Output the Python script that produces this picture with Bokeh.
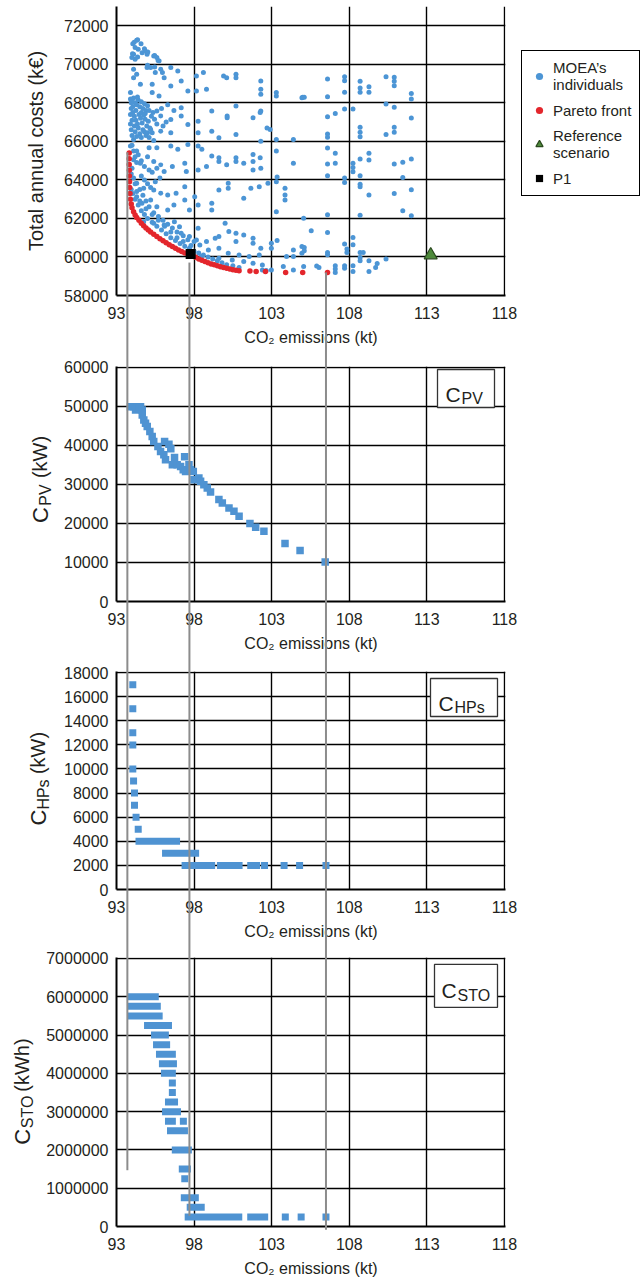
import math
from bokeh.plotting import figure
from bokeh.layouts import column, row
from bokeh.models import (Range1d, FixedTicker, PrintfTickFormatter, Legend, LegendItem,
                          Label, BoxAnnotation)
from bokeh.embed import file_html
from bokeh.resources import INLINE

# ---------------- data ----------------
x_ticks = [93, 98, 103, 108, 113, 118]
cost_ticks = [58000, 60000, 62000, 64000, 66000, 68000, 70000, 72000]
cpv_ticks = [0, 10000, 20000, 30000, 40000, 50000, 60000]
chp_ticks = [0, 2000, 4000, 6000, 8000, 10000, 12000, 14000, 16000, 18000]
sto_ticks = [0, 1000000, 2000000, 3000000, 4000000, 5000000, 6000000, 7000000]

# MOEA individuals (CO2 kt, cost k€), grouped by region
moea_top = [(94.3, 71250), (94.05, 71070), (94.2, 70870), (94.4, 70780), (94.1, 70520), (94.65, 70600),
            (94.85, 70690), (94.97, 70520), (95.4, 70430), (95.6, 70350), (95.75, 70170), (93.99, 70350),
            (94.2, 70260), (94.36, 71268), (94.14, 71150), (94.58, 71070), (94.8, 70810), (95.02, 70640),
            (95.46, 70460), (95.68, 70200), (94.03, 70550), (94.36, 70380), (95.0, 69950), (95.46, 69860)]
moea_68_70 = [(94.1, 69740), (94.3, 69480), (94.97, 69830), (95.2, 69830), (95.5, 69570), (95.96, 69570),
              (96.5, 69830), (96.95, 69650), (97.17, 69130), (96.07, 69300), (94.54, 68960), (95.3, 68960),
              (95.74, 68350), (95.3, 68530), (97.6, 68610), (98.15, 69390), (98.6, 69570), (98.8, 68700),
              (98.15, 68610), (99.9, 69390), (100.1, 69300), (100.7, 69480), (100.7, 69300), (102.3, 69130),
              (102.3, 68700), (102.3, 68440), (103.3, 68530), (103.3, 68350), (104.95, 68270), (93.9, 68530),
              (94.1, 69300), (96.5, 68870), (95.85, 69740), (105.0, 68290)]
moea_66_68 = [(95.6, 67570), (95.85, 67320), (96.5, 67140), (97.17, 67750), (97.17, 67320), (97.6, 66880),
              (98.26, 67050), (99.14, 67570), (100.13, 67320), (100.13, 67230), (100.7, 67830), (101.8, 67230),
              (102.3, 67570), (100.7, 66360), (102.9, 66620), (96.5, 66450), (95.85, 66530), (95.2, 66620),
              (98.26, 66450), (99.14, 66530), (99.6, 66190), (102.26, 67500), (102.7, 66700),
              (93.9, 68200), (94.0, 68100), (94.1, 68250), (94.2, 68000), (94.3, 67900), (94.4, 68150),
              (94.5, 67800), (94.6, 68050), (94.7, 67700), (94.8, 67950), (94.9, 67600), (95.0, 67850),
              (93.95, 67700), (94.05, 67500), (94.15, 67300), (94.25, 67100), (94.35, 66900), (94.45, 67400),
              (94.55, 67200), (94.65, 66950), (94.75, 67350), (94.85, 67150), (94.95, 66800), (95.05, 67050),
              (95.15, 66700), (95.25, 67300), (95.35, 67500), (93.9, 66900), (93.95, 66600), (94.0, 66300),
              (94.1, 66100), (94.2, 66500), (94.3, 66250), (94.5, 66400), (94.7, 66600), (94.9, 66300),
              (95.1, 66200), (95.3, 66450), (93.95, 68000), (94.05, 67800), (94.25, 67600), (94.35, 68300),
              (94.6, 67500), (94.85, 67450), (95.1, 67600), (95.45, 67150), (95.6, 66900), (94.0, 67100),
              (94.4, 66700), (94.8, 66500), (95.0, 66450), (93.9, 67400), (94.15, 66800), (94.6, 66200),
              (95.4, 66050), (96.0, 66800), (96.2, 67000), (95.9, 67700), (96.3, 67900), (96.7, 67600)]
moea_64_66 = [(93.9, 65760), (94.3, 65500), (95.1, 65670), (95.6, 65670), (96.5, 65760), (96.95, 65590),
              (97.6, 65840), (98.26, 65760), (98.5, 65590), (99.14, 65240), (99.6, 65150), (100.7, 65150),
              (101.8, 65320), (102.3, 66000), (103.3, 66100), (103.3, 65500), (104.4, 66100), (102.26, 65150),
              (94.1, 65040), (94.54, 64870), (95.4, 64950), (95.85, 64780), (96.6, 64690), (97.4, 64870),
              (97.5, 64430), (98.8, 64690), (99.6, 64950), (100.1, 64780), (100.7, 64950), (101.2, 64870),
              (101.8, 64950), (101.8, 64520), (102.3, 64610), (104.4, 64870), (95.1, 64520), (96.07, 64430),
              (98.26, 64520), (103.35, 64150), (94.0, 65800), (94.1, 65500), (94.2, 65200), (94.3, 64900),
              (94.0, 64600), (93.95, 64300), (94.1, 64100), (94.4, 65300), (94.6, 65000), (94.8, 64700),
              (95.0, 65200), (95.3, 64400), (95.6, 64600), (94.6, 64200), (94.8, 64000)]
moea_62_64 = [(94.3, 63830), (94.75, 63570), (95.4, 63480), (95.85, 63310), (96.3, 63220), (96.84, 63310),
              (97.4, 63650), (97.4, 62960), (98.04, 63130), (98.26, 62700), (99.14, 62790), (99.14, 62440),
              (99.6, 63480), (100.2, 63830), (100.2, 63570), (101.2, 63050), (101.66, 63570), (102.2, 63650),
              (102.76, 63830), (103.3, 63910), (103.86, 63570), (103.86, 63220), (103.86, 62960), (103.3, 62350),
              (105.06, 62010), (95.2, 62960), (95.6, 62610), (96.3, 62440), (96.7, 62700), (94.3, 63130),
              (94.64, 62790), (97.7, 62440), (94.2, 63800), (93.95, 63500), (94.05, 63300), (94.2, 63000),
              (94.4, 62700), (94.6, 62400), (94.8, 62200), (95.0, 63800), (95.2, 63600), (95.5, 63900),
              (95.8, 64100), (94.5, 63500), (94.7, 63200), (94.9, 62900), (95.1, 62600), (95.4, 62300),
              (95.7, 62100), (94.3, 63400), (94.5, 62900), (94.9, 62500), (95.3, 62200)]
moea_60_62 = [(94.75, 61830), (95.4, 61750), (96.07, 61660), (96.73, 61830), (97.06, 61570), (97.17, 61230),
              (97.7, 61060), (98.26, 61490), (98.15, 60880), (98.8, 60800), (99.36, 60970), (99.6, 61060),
              (100.0, 61750), (100.24, 61320), (100.7, 61230), (100.7, 60800), (101.2, 61140), (101.8, 60970),
              (101.8, 60710), (102.3, 60450), (102.98, 60710), (102.98, 60450), (103.96, 60020), (104.4, 60360),
              (104.4, 60020), (104.95, 60540), (104.95, 60190), (98.37, 60620), (98.92, 60360), (99.6, 60450),
              (100.2, 60190), (100.9, 60100), (101.55, 60020), (102.2, 60100), (103.35, 60850), (105.55, 61360),
              (95.0, 62000), (95.3, 61800), (95.6, 61600), (95.9, 61400), (96.2, 61200), (96.5, 61000),
              (96.8, 60850), (97.1, 60700), (97.4, 60550), (97.7, 60450), (98.0, 60300), (98.3, 60200),
              (98.6, 60100), (98.9, 60000), (96.0, 61900), (96.3, 61700), (96.6, 61500), (96.9, 61300),
              (97.3, 61100), (97.6, 60900), (98.0, 60800), (95.7, 61900), (96.1, 61600), (96.5, 61300),
              (96.9, 61000), (97.3, 60800), (97.8, 60600)]
moea_below_60 = [(98.48, 60020), (99.6, 59930), (100.46, 59840), (101.2, 59760), (101.8, 59670),
                 (102.4, 59580), (102.4, 59320), (102.98, 59320), (103.75, 59500), (104.4, 59320),
                 (105.06, 59500), (99.2, 59900), (99.5, 59800), (99.8, 59700), (100.1, 59600),
                 (100.5, 59550), (100.9, 59450), (105.9, 59530), (102.65, 59300)]
moea_right = [(106.6, 69240), (107.7, 69360), (107.7, 69150), (106.6, 68320), (107.7, 68550), (108.7, 69120),
              (108.7, 68770), (108.7, 68550), (109.27, 68840), (109.27, 68550), (110.37, 69360), (110.9, 69330),
              (110.9, 69120), (110.9, 68890), (112.0, 68490), (112.0, 68200), (105.1, 68290),
              (106.6, 67280), (107.1, 67450), (107.7, 67680), (108.24, 67680), (110.37, 67940), (110.9, 67770),
              (112.0, 67210), (106.6, 66380), (106.6, 66210), (108.7, 66730), (108.7, 66470), (108.7, 66240),
              (110.37, 66350), (110.9, 66730), (110.9, 66470),
              (106.6, 65650), (107.1, 65380), (107.1, 64870), (106.6, 64820), (106.6, 64220), (108.24, 64870),
              (108.24, 64650), (108.24, 64420), (108.7, 65080), (109.27, 65380), (109.27, 65030), (110.9, 64820),
              (111.45, 64910), (112.0, 65080), (111.45, 64130), (108.7, 64220), (107.7, 64100), (107.7, 63870),
              (108.7, 63780), (108.7, 63640), (109.27, 63210), (110.9, 63300), (112.0, 63490), (111.45, 62400),
              (112.0, 62140), (108.7, 62170), (106.6, 62190),
              (106.6, 61270), (108.24, 61010), (108.24, 60630), (107.7, 60670), (107.85, 60410),
              (107.85, 60230), (106.6, 60230), (106.6, 60110), (108.7, 60230), (108.9, 60230), (108.7, 59970),
              (108.7, 59800), (109.27, 59800), (110.37, 59890), (109.8, 59660), (109.7, 59450), (109.27, 59250),
              (108.24, 59540), (108.24, 59250), (107.7, 59540), (107.7, 59420), (107.1, 59540), (107.1, 59370),
              (107.1, 59190), (106.05, 59450), (105.1, 60490), (105.1, 60320)]

# Pareto front (CO2 kt, cost k€)
pareto_x = [93.82, 93.82, 93.82, 93.83, 93.83, 93.84, 93.85, 93.87, 93.9, 93.95, 94.0, 94.1, 94.2, 94.3,
            94.45, 94.6, 94.75, 94.9, 95.05, 95.2, 95.4, 95.6, 95.8, 96.0, 96.2, 96.4, 96.6, 96.8, 97.0,
            97.2, 97.4, 97.6, 97.9, 98.1, 98.3, 98.5, 98.7, 98.9, 99.1, 99.3, 99.5, 99.7, 99.9, 100.1,
            100.3, 100.5, 100.7, 100.9, 101.6, 102.0, 102.6, 103.9, 105.0, 106.6]
pareto_y = [65400, 65100, 64800, 64500, 64200, 63900, 63600, 63300, 63000, 62750, 62550, 62350, 62180, 62050,
            61900, 61750, 61620, 61500, 61400, 61300, 61180, 61060, 60950, 60840, 60740, 60640, 60540, 60450,
            60360, 60280, 60210, 60150, 60060, 59980, 59900, 59830, 59760, 59700, 59640, 59590, 59540, 59490,
            59450, 59410, 59370, 59340, 59310, 59290, 59270, 59250, 59240, 59200, 59200, 59190]
p1_x = [97.78]
p1_y = [60150]
ref_x = [113.25]
ref_y = [60100]

# C_PV (kW) of the Pareto solutions
cpv_x = [93.9, 94.1, 94.33, 94.55, 94.23, 94.45, 94.66, 94.66, 94.76, 94.87, 94.98, 95.15, 95.3, 95.4,
         95.67, 95.84, 96.05, 96.16, 96.1, 96.38, 96.5, 96.6, 96.74, 96.91, 97.13, 97.39, 97.3, 97.45,
         97.67, 97.77, 97.95, 97.99, 98.31, 98.42, 98.63, 98.85, 99.06, 99.6, 99.82, 100.25, 100.57,
         100.9, 101.6, 101.97, 102.5, 103.86, 104.83, 106.45]
cpv_y = [49950, 49950, 49950, 49950, 49100, 49500, 49100, 47830, 46550, 45700, 44850, 43570, 42290, 41020,
         39740, 38470, 37620, 36340, 41020, 40340, 39150, 35060, 36930, 35060, 34640, 37100, 33790, 33360,
         35060, 33790, 33360, 31230, 31650, 30810, 29960, 29110, 28080, 26130, 25280, 24000, 23150,
         21870, 20000, 19060, 18040, 14890, 13100, 10100]

# C_HPs (kW): single solutions and runs of solutions sharing one value
chp_x = [94.05, 94.05, 94.05, 94.05, 94.05, 94.1, 94.16, 94.16, 94.26, 94.4, 102.54, 103.8, 104.8, 106.5]
chp_y = [17000, 15000, 13000, 12000, 10000, 9000, 8000, 7000, 6000, 5000, 2000, 2000, 2000, 2000]
chp_run_start = [94.45, 96.16, 97.42, 99.7, 101.65]
chp_run_end = [96.87, 98.1, 99.13, 100.9, 102.03]
chp_run_y = [4000, 3000, 2000, 2000, 2000]

# C_STO (kWh)
sto_x = [96.6, 96.6, 97.31, 97.4, 103.88, 104.9, 106.5]
sto_y = [3750000, 3500000, 2750000, 1250000, 250000, 250000, 250000]
sto_run_start = [93.94, 93.94, 93.94, 95.0, 95.45, 95.58, 95.77, 95.96, 96.09, 96.35, 96.16, 96.35,
                 96.48, 96.79, 97.24, 97.37, 97.75, 97.62, 101.65]
sto_run_end = [95.5, 95.63, 95.75, 96.35, 96.15, 96.23, 96.6, 96.67, 96.6, 96.74, 96.93, 96.6,
               97.38, 97.63, 97.57, 98.08, 98.46, 100.88, 102.55]
sto_run_y = [6000000, 5750000, 5500000, 5250000, 5000000, 4750000, 4500000, 4250000, 4000000, 3250000,
             3000000, 2750000, 2500000, 2000000, 1500000, 750000, 500000, 250000, 250000]

# vertical guide lines linking the panels
link_x = [93.7, 97.7, 106.5]
link_top_cost = [65430, 59710, 59200]        # where each line starts (top panel, k€)
link_bottom_sto = [1470000, 280000, -85000]  # where each line ends (bottom panel, kWh)

# ---------------- styling ----------------
FONT = "Liberation Sans"
TXT = "#231f20"
BLUE = "#4c95d5"
SQ_BLUE = "#4f93d2"
RED = "#e3262c"
GREEN = "#4e8a3b"
GRAY = "#8c8c8c"
PAGE_W = 641
FL, FR = 116, 505          # page x of the plot frames
X0, X1 = 93, 118.07


def make_fig(page_left, page_right, page_top, page_bottom, ftop, fbot, y0, y1, yticks):
    p = figure(width=page_right - page_left, height=page_bottom - page_top, output_backend="svg",
               toolbar_location=None, x_range=Range1d(X0, X1), y_range=Range1d(y0, y1),
               min_border_left=FL - page_left, min_border_right=page_right - FR,
               min_border_top=ftop - page_top, min_border_bottom=page_bottom - fbot)
    p.outline_line_color = None
    p.background_fill_color = "white"
    p.border_fill_color = "white"
    p.xaxis.ticker = FixedTicker(ticks=x_ticks)
    p.yaxis.ticker = FixedTicker(ticks=yticks)
    p.yaxis.formatter = PrintfTickFormatter(format="%d")
    p.xgrid.ticker = FixedTicker(ticks=x_ticks)
    p.ygrid.ticker = FixedTicker(ticks=yticks)
    for g in (p.xgrid[0], p.ygrid[0]):
        g.grid_line_color = "black"
        g.grid_line_width = 1.4
        g.grid_line_alpha = 1.0
    for ax in (p.xaxis[0], p.yaxis[0]):
        ax.axis_line_color = "black"
        ax.axis_line_width = 2
        ax.major_tick_in = 0
        ax.major_tick_out = 0
        ax.minor_tick_in = 0
        ax.minor_tick_out = 0
        ax.major_label_text_font = FONT
        ax.major_label_text_font_size = "16px"
        ax.major_label_text_color = TXT
        ax.major_label_standoff = 8
    p.xaxis.major_label_standoff = 11
    p.xaxis.axis_label = "CO₂ emissions (kt)"
    p.xaxis.axis_label_text_font = FONT
    p.xaxis.axis_label_text_font_size = "16px"
    p.xaxis.axis_label_text_font_style = "normal"
    p.xaxis.axis_label_text_color = TXT
    p.xaxis.axis_label_standoff = 7
    geom = dict(ftop=ftop, fbot=fbot, y0=y0, y1=y1)
    return p, geom


def dx(px):
    return X0 + (px - FL) / (FR - FL) * (X1 - X0)


def dy(g, py):
    return g["y0"] + (g["fbot"] - py) / (g["fbot"] - g["ftop"]) * (g["y1"] - g["y0"])


def add_links(p, lows, highs):
    p.segment(x0=link_x, y0=lows, x1=link_x, y1=highs, line_color=GRAY, line_width=2, level="overlay")


def add_tag(p, g, box, main, sub):
    l, r, t, b = box
    p.add_layout(BoxAnnotation(left=dx(l), right=dx(r), top=dy(g, t), bottom=dy(g, b),
                               fill_color="white", fill_alpha=1.0, line_color="#333333",
                               line_width=1.3, line_alpha=1.0))
    for text, size, px, py in (main, sub):
        p.add_layout(Label(x=dx(px), y=dy(g, py), text=text, text_font=FONT, text_font_size=size,
                           text_color=TXT, text_align="left", text_baseline="alphabetic"))


def blank_fig(width, height, y_range):
    f = figure(width=width, height=height, output_backend="svg", toolbar_location=None,
               x_range=Range1d(0, width), y_range=y_range, x_axis_type=None, y_axis_type=None,
               min_border_left=0, min_border_right=0, min_border_top=0, min_border_bottom=0)
    f.outline_line_color = None
    f.grid.visible = False
    return f


def label_fig(width, page_top, page_bottom, g, parts):
    """Narrow figure (frame aligned with its panel) holding a rotated y title with a subscript.
    Its y range runs in page pixels, so the parts are given as page-pixel centres."""
    lf = blank_fig(width, page_bottom - page_top, Range1d(g["fbot"], g["ftop"]))
    for text, size, cx, cy in parts:
        lf.add_layout(Label(x=cx, y=cy, text=text, angle=math.pi / 2,
                            text_font=FONT, text_font_size=size, text_color=TXT,
                            text_align="center", text_baseline="middle"))
    return lf


# ---------------- panel 1: costs ----------------
P1_RIGHT = 520
p1, g1 = make_fig(0, P1_RIGHT, 0, 350, 6, 295, 58000, 73000, cost_ticks)
p1.yaxis.axis_label = "Total annual costs (k€)"
p1.yaxis.axis_label_text_font = FONT
p1.yaxis.axis_label_text_font_size = "20px"
p1.yaxis.axis_label_text_font_style = "normal"
p1.yaxis.axis_label_text_color = TXT
p1.yaxis.axis_label_standoff = 14

moea = moea_top + moea_68_70 + moea_66_68 + moea_64_66 + moea_62_64 + moea_60_62 + moea_below_60 + moea_right
moea_style = dict(marker="circle", size=5, fill_color=BLUE, line_color=None)
par_style = dict(marker="circle", size=5.5, fill_color=RED, line_color=None)
p1_style = dict(marker="square", size=10, fill_color="black", line_color=None)
ref_style = dict(marker="triangle", size=13, fill_color=GREEN, line_color="#2b4a1f", line_width=1.2)
p1.scatter([a for a, _ in moea], [b for _, b in moea], **moea_style)
p1.scatter(pareto_x, pareto_y, **par_style)
p1.scatter(p1_x, p1_y, **p1_style)
p1.scatter(ref_x, ref_y, **ref_style)
add_links(p1, [50000] * 3, link_top_cost)

# legend lives in its own narrow figure (frame aligned with the top panel's frame)
legfig = blank_fig(PAGE_W - P1_RIGHT, 350, Range1d(0, 1))
k_moea = legfig.scatter([-50], [-50], **moea_style)
k_par = legfig.scatter([-50], [-50], **par_style)
k_ref = legfig.scatter([-50], [-50], **ref_style)
k_p1 = legfig.scatter([-50], [-50], **p1_style)
legend = Legend(items=[LegendItem(label="MOEA’s\nindividuals", renderers=[k_moea]),
                       LegendItem(label="Pareto front", renderers=[k_par]),
                       LegendItem(label="Reference\nscenario", renderers=[k_ref]),
                       LegendItem(label="P1", renderers=[k_p1])],
                location=(1, 99), border_line_color="black", border_line_width=1,
                border_line_alpha=1.0, background_fill_color="white", background_fill_alpha=1.0,
                label_text_font=FONT, label_text_font_size="15px", label_text_color=TXT,
                glyph_width=18, glyph_height=18, label_standoff=5, label_width=78,
                spacing=8, padding=8, margin=0)
legfig.add_layout(legend)

# ---------------- panel 2: C_PV ----------------
p2, g2 = make_fig(58, PAGE_W, 350, 655, 366, 601, 0, 60250, cpv_ticks)
p2.scatter(cpv_x, cpv_y, marker="square", size=7.5, fill_color=SQ_BLUE, line_color=None)
add_links(p2, [-20000] * 3, [70000] * 3)
add_tag(p2, g2, (437, 494, 369, 407), ("C", "21px", 445, 393.5), ("PV", "16px", 461, 397.5))
lab2 = label_fig(58, 350, 655, g2, [("C", "22px", 39.5, 514.5), ("PV", "16px", 44.5, 494.5),
                                    ("(kW)", "20px", 39.5, 456.5)])

# ---------------- panel 3: C_HPs ----------------
p3, g3 = make_fig(58, PAGE_W, 655, 942, 671, 889, 0, 18090, chp_ticks)
p3.segment(x0=chp_run_start, y0=chp_run_y, x1=chp_run_end, y1=chp_run_y, line_width=7,
           line_color=SQ_BLUE, line_cap="square")
p3.scatter(chp_x, chp_y, marker="square", size=7, fill_color=SQ_BLUE, line_color=None)
add_links(p3, [-6000] * 3, [21000] * 3)
add_tag(p3, g3, (430, 497, 678, 716), ("C", "21px", 438, 703), ("HPs", "16px", 454, 707))
lab3 = label_fig(58, 655, 942, g3, [("C", "22px", 37.5, 817), ("HPs", "16px", 42.5, 794),
                                    ("(kW)", "20px", 37.5, 752.5)])

# ---------------- panel 4: C_STO ----------------
p4, g4 = make_fig(40, PAGE_W, 942, 1279, 957, 1227, 0, 7026000, sto_ticks)
p4.segment(x0=sto_run_start, y0=sto_run_y, x1=sto_run_end, y1=sto_run_y, line_width=7,
           line_color=SQ_BLUE, line_cap="square")
p4.scatter(sto_x, sto_y, marker="square", size=7, fill_color=SQ_BLUE, line_color=None)
add_links(p4, link_bottom_sto, [7600000] * 3)
add_tag(p4, g4, (434, 497, 964, 1007), ("C", "21px", 441, 990), ("STO", "16px", 457, 995))
lab4 = label_fig(40, 942, 1279, g4, [("C", "22px", 21.5, 1137), ("STO", "16px", 26.5, 1112),
                                     ("(kWh)", "20px", 21.5, 1065)])

layout = column(row(p1, legfig, spacing=0), row(lab2, p2, spacing=0), row(lab3, p3, spacing=0),
                row(lab4, p4, spacing=0), spacing=0)
open("out.html", "w").write(file_html(layout, INLINE))
